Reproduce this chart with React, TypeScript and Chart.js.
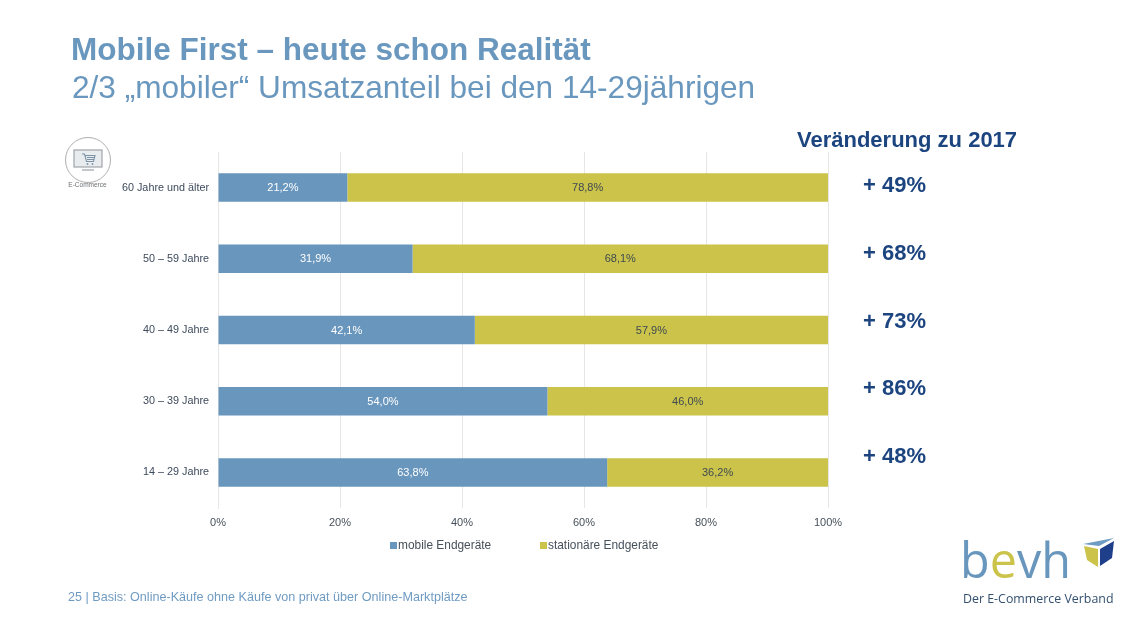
import React, { useEffect, useRef } from "react";
import { Chart, registerables } from "chart.js";

Chart.register(...registerables);

const categories = ["60 Jahre und älter", "50 – 59 Jahre", "40 – 49 Jahre", "30 – 39 Jahre", "14 – 29 Jahre"];
const mobileValues = [21.2, 31.9, 42.1, 54.0, 63.8];
const stationaryValues = [78.8, 68.1, 57.9, 46.0, 36.2];
const changeLabels = ["+ 49%", "+ 68%", "+ 73%", "+ 86%", "+ 48%"];
const changeTops = [185, 253, 321, 388, 456];
const seriesNames = ["mobile Endgeräte", "stationäre Endgeräte"];
const BLUE = "#6996bd";
const YELLOW = "#cbc34a";
const NAVY = "#1c4580";
const FONT = '"Liberation Sans", Arial, sans-serif';

const valueLabels = {
  id: "valueLabels",
  afterDatasetsDraw(chart: any) {
    const { ctx } = chart;
    ctx.save();
    ctx.font = `11px ${FONT}`;
    ctx.textAlign = "center";
    ctx.textBaseline = "middle";
    chart.data.datasets.forEach((ds: any, di: number) => {
      chart.getDatasetMeta(di).data.forEach((bar: any, i: number) => {
        ctx.fillStyle = di === 0 ? "#ffffff" : "#3f4a52";
        const text = ds.data[i].toFixed(1).replace(".", ",") + "%";
        ctx.fillText(text, (bar.x + bar.base) / 2, bar.y + 0.5);
      });
    });
    ctx.restore();
  },
};

function T({ x, y, size, color, bold, children }: any) {
  return (
    <div
      style={{
        position: "absolute",
        left: x,
        top: y,
        transform: "translateY(-50%)",
        fontFamily: FONT,
        fontSize: size,
        color,
        fontWeight: bold ? 700 : 400,
        whiteSpace: "nowrap",
        lineHeight: 1,
      }}
    >
      {children}
    </div>
  );
}

export default function App() {
  const ref = useRef<HTMLCanvasElement>(null);
  useEffect(() => {
    document.body.style.margin = "0";
    document.body.style.background = "#fff";
    const chart = new Chart(ref.current!, {
      type: "bar",
      data: {
        labels: categories,
        datasets: [
          { label: seriesNames[0], data: mobileValues, backgroundColor: BLUE, barPercentage: 0.8, categoryPercentage: 0.5 },
          { label: seriesNames[1], data: stationaryValues, backgroundColor: YELLOW, barPercentage: 0.8, categoryPercentage: 0.5 },
        ],
      },
      options: {
        indexAxis: "y",
        responsive: false,
        animation: false,
        layout: { padding: { left: 0, right: 299, top: 152, bottom: 0 } },
        plugins: { legend: { display: false }, tooltip: { enabled: false } },
        scales: {
          x: {
            stacked: true,
            min: 0,
            max: 100,
            afterFit: (s: any) => { s.height = 116; },
            grid: { color: "#e6e6e6", drawTicks: false },
            border: { display: false },
            ticks: {
              stepSize: 20,
              padding: 8,
              color: "#46505a",
              font: { family: FONT, size: 11 },
              callback: (v: any) => `${v}%`,
            },
          },
          y: {
            stacked: true,
            afterFit: (s: any) => { s.width = 218; },
            grid: { display: false, drawTicks: false },
            border: { color: "#e6e6e6" },
            ticks: { padding: 9, color: "#3d4a5c", font: { family: FONT, size: 10.8 } },
          },
        },
      },
      plugins: [valueLabels],
    } as any);
    return () => chart.destroy();
  }, []);

  return (
    <div style={{ position: "absolute", left: 0, top: 0, width: 1127, height: 624, overflow: "hidden", background: "#fff" }}>
      <canvas ref={ref} width={1127} height={624} style={{ position: "absolute", left: 0, top: 0 }} />
      <T x={71} y={50} size={31.5} color="#6a97be" bold>Mobile First – heute schon Realität</T>
      <T x={72} y={88} size={31.6} color="#6a97be">2/3 „mobiler“ Umsatzanteil bei den 14-29jährigen</T>
      <T x={797} y={140} size={22} color={NAVY} bold>Veränderung zu 2017</T>
      {changeLabels.map((c, i) => (
        <T key={c} x={863} y={changeTops[i]} size={22} color={NAVY} bold>{c}</T>
      ))}
      <div style={{ position: "absolute", left: 390, top: 542, width: 7, height: 7, background: BLUE }} />
      <T x={398} y={546} size={11.9} color="#46505a">{seriesNames[0]}</T>
      <div style={{ position: "absolute", left: 540, top: 542, width: 7, height: 7, background: YELLOW }} />
      <T x={548} y={546} size={11.9} color="#46505a">{seriesNames[1]}</T>
      <T x={68} y={597} size={12.6} color="#6f9bc2">25 | Basis: Online-Käufe ohne Käufe von privat über Online-Marktplätze</T>
      <svg width={1127} height={624} style={{ position: "absolute", left: 0, top: 0, pointerEvents: "none" }}>
        <circle cx={88} cy={160} r={22.5} fill="#fff" stroke="#9a9a9a" strokeWidth={0.8} />
        <rect x={74} y={150} width={28} height={17} fill="#e9ecef" stroke="#a0a4a8" strokeWidth={1.2} />
        <rect x={82} y={169} width={12} height={2} fill="#c4c8cc" />
        <path d="M82 154h2.500l2 7.500h7l1.500-6h-10M87 157.500h7.500M87 159.500h7" fill="none" stroke="#7d93a8" strokeWidth={1.1} />
        <circle cx={87.500} cy={164} r={0.9} fill="#7d93a8" />
        <circle cx={92.500} cy={164} r={0.9} fill="#7d93a8" />
        <text x={87.500} y={187} textAnchor="middle" fontFamily={FONT} fontSize={6.500} fill="#6b6f73">E-Commerce</text>
        <text x={960} y={578} fontFamily='"Open Sans", sans-serif' fontWeight={400} fontSize={48.500} fill={BLUE}>
          b<tspan fill={YELLOW}>e</tspan>vh
        </text>
        <text x={963} y={603} fontFamily='"Open Sans", sans-serif' fontSize={12.400} fill="#34506f">Der E-Commerce Verband</text>
        <polygon points="1083,544 1114,538 1099,546" fill="#6e9cc2" />
        <polygon points="1084,546 1098,549 1098,567 1087,560" fill={YELLOW} />
        <polygon points="1100,549 1114,541 1112,558 1100,566" fill="#1f3f8a" />
      </svg>
    </div>
  );
}
